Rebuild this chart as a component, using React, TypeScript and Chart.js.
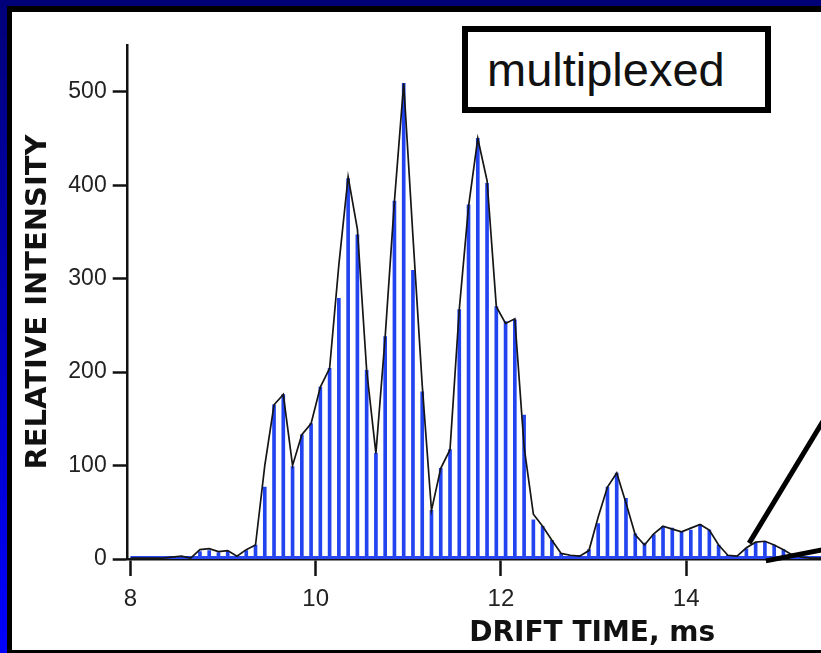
import { useEffect, useRef } from "react";
import { Chart, registerables } from "chart.js";

Chart.register(...registerables);

// Drift-time grid of the multiplexed bars (ms)
const driftTimes = [
  8.05, 8.15, 8.25, 8.35, 8.45, 8.55, 8.65, 8.75, 8.85, 8.95,
  9.05, 9.15, 9.25, 9.35, 9.45, 9.55, 9.65, 9.75, 9.85, 9.95,
  10.05, 10.15, 10.25, 10.35, 10.45, 10.55, 10.65, 10.75, 10.85, 10.95,
  11.05, 11.15, 11.25, 11.35, 11.45, 11.55, 11.65, 11.75, 11.85, 11.95,
  12.05, 12.15, 12.25, 12.35, 12.45, 12.55, 12.65, 12.75, 12.85, 12.95,
  13.05, 13.15, 13.25, 13.35, 13.45, 13.55, 13.65, 13.75, 13.85, 13.95,
  14.05, 14.15, 14.25, 14.35, 14.45, 14.55, 14.65, 14.75, 14.85, 14.95,
  15.05, 15.15, 15.25, 15.35,
];

// Bar (stick) intensities
const barIntensity = [
  1, 1, 1, 1, 1, 2, 1, 8, 9, 7,
  8, 3, 9, 15, 77, 165, 176, 99, 133, 145,
  184, 204, 279, 407, 347, 202, 113, 238, 383, 509,
  309, 179, 52, 97, 117, 267, 379, 450, 402, 270,
  254, 256, 154, 42, 35, 20, 6, 4, 4, 10,
  38, 77, 92, 65, 27, 17, 26, 35, 33, 29,
  31, 37, 31, 15, 4, 3, 11, 17, 19, 15,
  10, 5, 3, 2,
];

// Black trace
const traceTimes = [
  8.0,
  8.05, 8.15, 8.25, 8.35, 8.45, 8.55, 8.65, 8.75, 8.85, 8.95,
  9.05, 9.15, 9.25, 9.35, 9.45, 9.55, 9.65, 9.75, 9.85, 9.95,
  10.05, 10.15, 10.25, 10.35, 10.45, 10.55, 10.65, 10.75, 10.85, 10.95,
  11.05, 11.15, 11.25, 11.35, 11.45, 11.55, 11.65, 11.75, 11.85, 11.95,
  12.05, 12.15, 12.25, 12.35, 12.45, 12.55, 12.65, 12.75, 12.85, 12.95,
  13.05, 13.15, 13.25, 13.35, 13.45, 13.55, 13.65, 13.75, 13.85, 13.95,
  14.05, 14.15, 14.25, 14.35, 14.45, 14.55, 14.65, 14.75, 14.85, 14.95,
  15.05, 15.15, 15.25, 15.35, 15.45, 15.55,
];
const traceIntensity = [
  1,
  1, 1, 1, 1, 2, 3, 1, 10, 11, 8,
  9, 3, 10, 15, 100, 165, 176, 100, 133, 145,
  184, 204, 315, 409, 353, 202, 113, 238, 383, 509,
  345, 186, 52, 97, 117, 267, 377, 450, 405, 270,
  252, 257, 120, 48, 35, 20, 6, 4, 3, 9,
  45, 77, 92, 60, 26, 15, 27, 35, 32, 29,
  33, 37, 31, 15, 4, 3, 12, 18, 19, 15,
  10, 4, 2, 1, 1, 1,
];

// Blue baseline under the sticks
const baselineTimes = [8.0, 18.0];
const baselineIntensity = [1.5, 1.5];

// Callout lines pointing to an inset (off to the right)
const calloutUpperTimes = [14.68, 16.0];
const calloutUpperIntensity = [17, 233];
const calloutLowerTimes = [14.86, 16.0];
const calloutLowerIntensity = [-2, 20];

const xRange = [7.97, 18];
const yRange = [0, 550];
const xStep = 2;
const yStep = 100;

const pts = (xs: number[], ys: number[]) => xs.map((x, i) => ({ x, y: ys[i] }));

export default function App() {
  const ref = useRef<HTMLCanvasElement>(null);

  useEffect(() => {
    if (!ref.current) return;
    const xTickFont = { family: '"Liberation Sans", Arial, sans-serif', size: 24 };
    const yTickFont = { family: '"Liberation Sans", Arial, sans-serif', size: 23 };
    const xTitleFont = { family: '"DejaVu Sans", sans-serif', size: 28, weight: "bold" as const, lineHeight: 1 };
    const yTitleFont = { family: '"DejaVu Sans", sans-serif', size: 29, weight: "bold" as const, lineHeight: 1 };
    const chart = new Chart(ref.current, {
      type: "bar",
      data: {
        datasets: [
          {
            type: "line",
            data: pts(calloutUpperTimes, calloutUpperIntensity),
            borderColor: "#000",
            borderWidth: 5,
            pointRadius: 0,
            clip: false,
            order: 0,
          } as any,
          {
            type: "line",
            data: pts(calloutLowerTimes, calloutLowerIntensity),
            borderColor: "#000",
            borderWidth: 5,
            pointRadius: 0,
            clip: false,
            order: 0,
          } as any,
          {
            type: "line",
            data: pts(traceTimes, traceIntensity),
            borderColor: "#151515",
            borderWidth: 1.7,
            pointRadius: 0,
            tension: 0,
            order: 1,
          } as any,
          {
            type: "line",
            data: pts(baselineTimes, baselineIntensity),
            borderColor: "#2a46f0",
            borderWidth: 3,
            pointRadius: 0,
            order: 2,
          } as any,
          {
            type: "bar",
            data: pts(driftTimes, barIntensity),
            backgroundColor: "#2143f0",
            barThickness: 3,
            grouped: false,
            order: 3,
          } as any,
        ],
      },
      options: {
        responsive: false,
        animation: false,
        devicePixelRatio: 1,
        layout: { padding: { left: 0, top: 33, right: 20, bottom: 0 } },
        plugins: { legend: { display: false }, tooltip: { enabled: false } },
        scales: {
          x: {
            type: "linear",
            min: xRange[0],
            max: xRange[1],
            offset: false,
            grid: {
              display: true,
              offset: false,
              drawOnChartArea: false,
              drawTicks: true,
              tickLength: 17,
              tickWidth: 2.5,
              tickColor: "#111",
            },
            border: { display: true, color: "#111", width: 2.5 },
            ticks: {
              stepSize: xStep,
              includeBounds: false,
              autoSkip: false,
              maxRotation: 0,
              padding: 9,
              color: "#222",
              font: xTickFont,
            },
            title: {
              display: true,
              text: "DRIFT TIME, ms",
              color: "#111",
              font: xTitleFont,
              padding: { top: 0, bottom: 2 },
            },
            afterFit: (s: any) => {
              s.height = 91;
            },
          } as any,
          y: {
            type: "linear",
            min: yRange[0],
            max: yRange[1],
            grid: {
              display: true,
              drawOnChartArea: false,
              drawTicks: true,
              tickLength: 15,
              tickWidth: 2.5,
              tickColor: "#111",
            },
            border: { display: true, color: "#111", width: 2.5 },
            ticks: {
              stepSize: yStep,
              includeBounds: false,
              padding: 6,
              color: "#222",
              font: yTickFont,
            },
            title: {
              display: true,
              text: "RELATIVE INTENSITY",
              color: "#111",
              font: yTitleFont,
              padding: { top: 12, bottom: 0 },
            },
            afterFit: (s: any) => {
              s.width = 115.7;
            },
          } as any,
        },
      },
    });
    return () => chart.destroy();
  }, []);

  return (
    <div
      style={{
        position: "fixed",
        left: 0,
        top: 0,
        width: 821,
        height: 653,
        overflow: "hidden",
        background: "linear-gradient(to bottom, #000078, #0000ff)",
      }}
    >
      <div
        style={{
          position: "absolute",
          left: 7,
          top: 6,
          width: 900,
          height: 647,
          boxSizing: "border-box",
          borderTop: "6px solid #000",
          borderLeft: "5px solid #000",
          borderBottom: "3px solid #000",
          background: "#fff",
        }}
      />
      <canvas
        ref={ref}
        width={1067}
        height={638}
        style={{ position: "absolute", left: 12, top: 12, width: 1067, height: 638 }}
      />
      <div
        style={{
          position: "absolute",
          left: 462,
          top: 26,
          width: 309,
          height: 87,
          boxSizing: "border-box",
          border: "6px solid #000",
          background: "#fff",
          fontFamily: '"Liberation Sans", Arial, sans-serif',
          fontSize: 47,
          lineHeight: "75px",
          paddingLeft: 19,
          paddingTop: 0,
          color: "#111",
          whiteSpace: "nowrap",
        }}
      >
        multiplexed
      </div>
    </div>
  );
}
